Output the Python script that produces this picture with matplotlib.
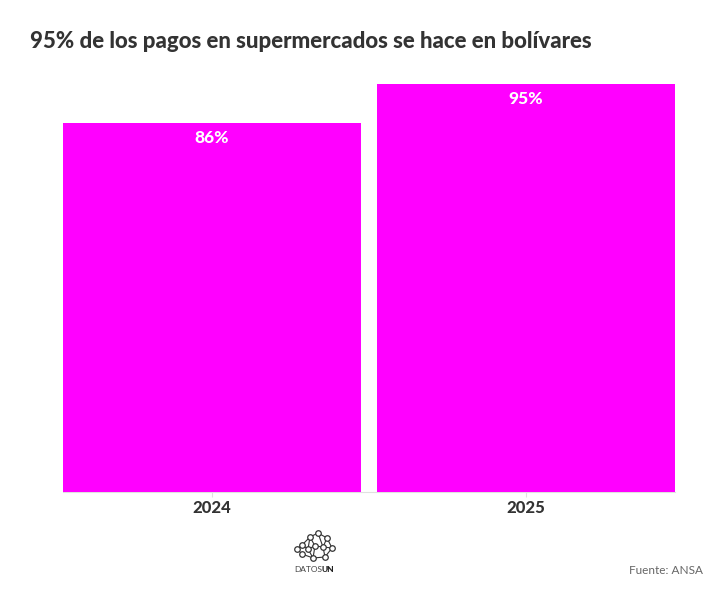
import matplotlib.pyplot as plt
from matplotlib.lines import Line2D

plt.rcParams['font.family'] = ['Lato', 'DejaVu Sans']

years = ['2024', '2025']
pct = [86, 95]
labels = ['86%', '95%']

bar_color = '#FF00FF'
text_dark = '#333333'

fig = plt.figure(figsize=(7.28, 5.89), dpi=100)
ax = fig.add_axes([63/728, 1 - 492/589, 612/728, (492 - 62.5)/589])

x = range(len(years))
bars = ax.bar(x, pct, width=0.95, color=bar_color, zorder=2)
for b, lab in zip(bars, labels):
    ax.text(b.get_x() + b.get_width()/2, b.get_height() - 3.6, lab,
            ha='center', va='center', color='white', fontsize=12.5,
            fontweight='black')

ax.set_xlim(-0.475, 1.475)
ax.set_ylim(0, 100)
ax.set_xticks(list(x))
ax.set_xticklabels(years, fontsize=12, fontweight='black', color=text_dark)
ax.tick_params(axis='x', length=3.5, color='#e0e0e0', pad=2.5)
ax.set_yticks([])
for s in ['top', 'right', 'left']:
    ax.spines[s].set_visible(False)
ax.spines['bottom'].set_color('#e0e0e0')
ax.spines['bottom'].set_zorder(1)

fig.text(30/728, 1 - 42/589, '95% de los pagos en supermercados se hace en bolívares',
         fontsize=16, fontweight='black', color=text_dark, va='center', ha='left')
fig.text(703/728, 1 - 571/589, 'Fuente: ANSA', fontsize=8.5, color='#666666',
         ha='right', va='center')

# logo: small network of nodes
nodes = [(302, 545), (310, 537), (318, 533), (327, 538), (332, 548), (325, 557),
         (313, 558), (302, 554), (297, 549), (315, 546), (323, 547), (308, 549)]
edges = [(0, 1), (1, 2), (2, 3), (3, 4), (4, 5), (5, 6), (6, 7), (7, 8), (8, 0),
         (1, 9), (9, 10), (10, 3), (9, 6), (10, 5), (11, 0), (11, 9), (11, 6),
         (2, 10), (1, 11), (4, 10)]
fx = lambda px: px / 728
fy = lambda py: 1 - py / 589
for a, b in edges:
    fig.add_artist(Line2D([fx(nodes[a][0]), fx(nodes[b][0])],
                          [fy(nodes[a][1]), fy(nodes[b][1])],
                          color='#333333', lw=0.8))
for nx_, ny_ in nodes:
    fig.add_artist(Line2D([fx(nx_)], [fy(ny_)], marker='o', ms=4,
                          mfc='white', mec='#333333', mew=0.9))
fig.text(fx(322), fy(570), 'DATOS', fontsize=6, color='#444444',
         ha='right', va='center')
fig.text(fx(322), fy(570), 'UN', fontsize=6, color='#222222',
         fontweight='black', ha='left', va='center')

fig.savefig('out.png', dpi=100)
